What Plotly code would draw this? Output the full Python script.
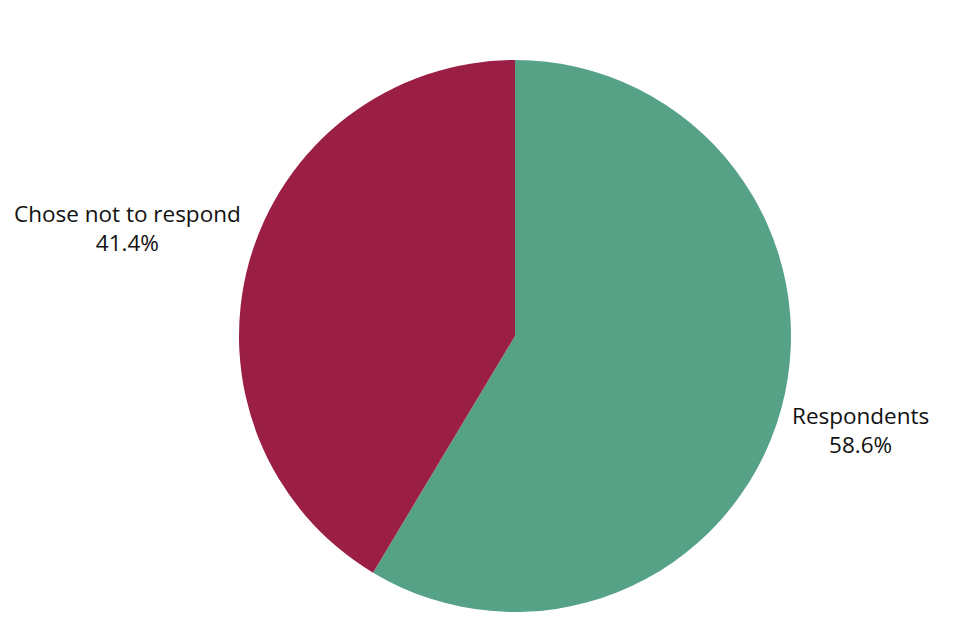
import plotly.graph_objects as go

labels = ["Respondents", "Chose not to respond"]
values = [58.6, 41.4]
colors = ["#56A287", "#9B1F45"]

# label anchor positions (paper coords relative to plot area)
label_pos = {"Respondents": (1.126, 0.329), "Chose not to respond": (-0.202, 0.695)}

fig = go.Figure(go.Pie(
    labels=labels,
    values=values,
    sort=False,
    direction="clockwise",
    rotation=0,
    marker=dict(colors=colors, line=dict(width=0)),
    textinfo="none",
    hoverinfo="label+percent",
    showlegend=False,
    automargin=False,
))

total = sum(values)
for lab, val in zip(labels, values):
    x, y = label_pos[lab]
    fig.add_annotation(
        x=x, y=y, xref="paper", yref="paper",
        text=f"{lab}<br>{val / total * 100:.1f}%",
        showarrow=False, align="center",
        xanchor="center", yanchor="middle",
        font=dict(family="Open Sans", size=22.5, color="#111111"),
    )

fig.update_layout(
    width=962, height=640,
    margin=dict(l=231, r=179, t=52, b=36),
    paper_bgcolor="white",
    plot_bgcolor="white",
)

fig.write_html("out.html")
